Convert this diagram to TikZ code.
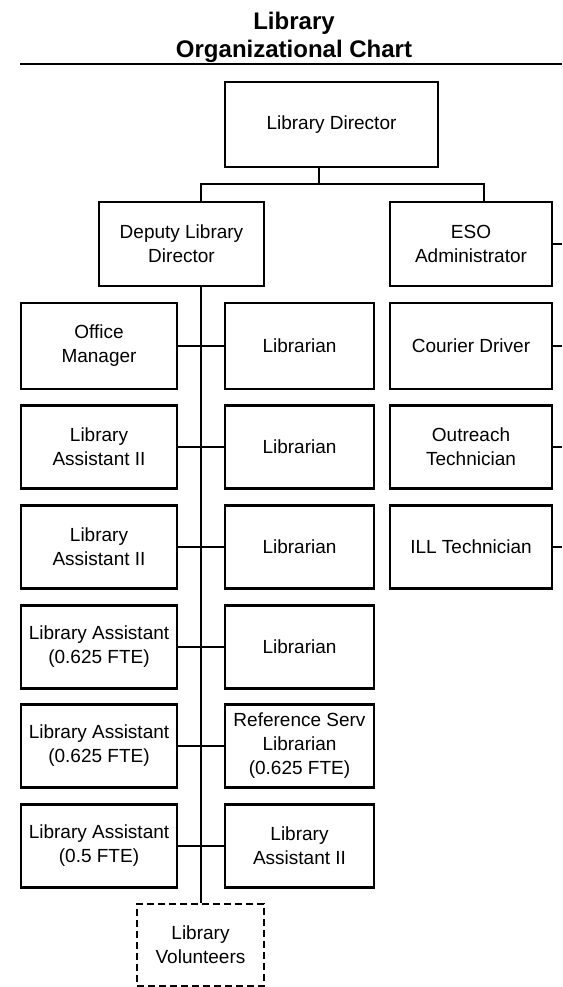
\documentclass[tikz,border=0pt]{standalone}
\usepackage{fontspec}
\setmainfont{Liberation Sans}
\begin{document}
\begin{tikzpicture}[x=1pt,y=-1pt,
  box/.style={draw, line width=2.2pt, align=center, inner sep=0pt,
    font=\fontsize{19}{24}\selectfont},
  wL/.style={minimum width=156pt},
  wM/.style={minimum width=149pt},
  wR/.style={minimum width=162pt},
  hrow/.style={minimum height=83pt},
  link/.style={line width=2.2pt},
  titletext/.style={font=\bfseries\fontsize{24}{28}\selectfont, inner sep=0pt, anchor=base}]
\useasboundingbox (0,0) rectangle (562,987);
% title
\node[titletext] (t1) at (294,30) {Library};
\node[titletext] (t2) at (294,58) {Organizational Chart};
\coordinate (r1) at (20,64);
\coordinate (r2) at (562,64);
\draw[line width=2.5pt] (r1) -- (r2);
% top
\node[box, minimum width=213pt, minimum height=85pt] (dir) at (331.5,124.5) {Library Director};
\node[box, minimum width=165pt, minimum height=84pt] (dep) at (181.5,244) {Deputy Library\\Director};
\node[box, wR, minimum height=84pt] (eso) at (471,244) {ESO\\Administrator};
% left column
\node[box, wL, minimum height=86pt] (om) at (99,346) {Office\\Manager};
\node[box, wL, hrow] (la1) at (99,447) {Library\\Assistant II};
\node[box, wL, hrow] (la2) at (99,547) {Library\\Assistant II};
\node[box, wL, hrow] (la3) at (99,647) {Library Assistant\\(0.625 FTE)};
\node[box, wL, hrow] (la4) at (99,746) {Library Assistant\\(0.625 FTE)};
\node[box, wL, hrow] (la5) at (99,846) {Library Assistant\\(0.5 FTE)};
% middle column
\node[box, wM, minimum height=86pt] (lib1) at (299.5,346) {Librarian};
\node[box, wM, hrow] (lib2) at (299.5,447) {Librarian};
\node[box, wM, hrow] (lib3) at (299.5,547) {Librarian};
\node[box, wM, hrow] (lib4) at (299.5,647) {Librarian};
\node[box, wM, hrow] (rsl) at (299.5,746) {Reference Serv\\Librarian\\(0.625 FTE)};
\node[box, wM, hrow] (la6) at (299.5,846) {Library\\Assistant II};
% right column
\node[box, wR, minimum height=86pt] (cd) at (471,346) {Courier Driver};
\node[box, wR, hrow] (ot) at (471,447) {Outreach\\Technician};
\node[box, wR, hrow] (ill) at (471,547) {ILL Technician};
% volunteers
\node[box, dash pattern=on 7pt off 4pt, minimum width=127pt, minimum height=82pt] (vol) at (200.5,945) {Library\\Volunteers};
% connectors
\coordinate (dj) at (319,184);
\draw[link] (dir.south -| dj) -- (dj);
\draw[link] (dep.north -| 201,0) |- (dj) -| (eso.north -| 484,0);
\draw[link] (dep.south -| 201,0) -- (vol.north -| 201,0);
\foreach \a/\b in {om/lib1, la1/lib2, la2/lib3, la3/lib4, la4/rsl, la5/la6}{
  \draw[link] (\a.east) -- (\b.west);
}
\foreach \n in {eso, cd, ot, ill}{
  \coordinate (\n-out) at (\n.east -| 562,0);
  \draw[link] (\n.east) -- (\n-out);
}
\end{tikzpicture}
\end{document}
